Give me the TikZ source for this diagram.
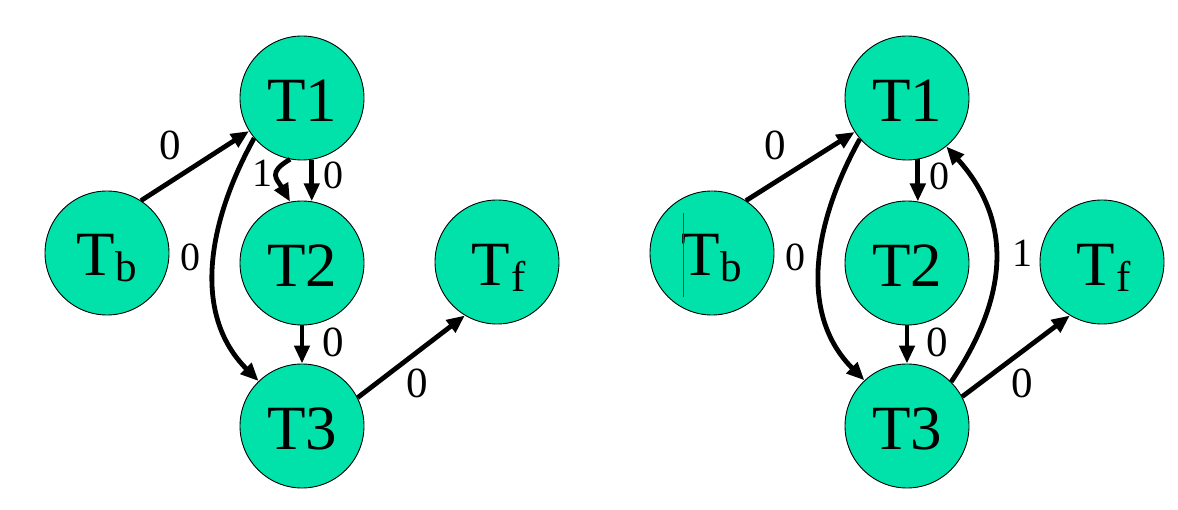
\documentclass[tikz,border=0pt]{standalone}
\usepackage{fontspec}
\setmainfont{Liberation Serif}
\usetikzlibrary{arrows.meta}
\definecolor{nodegreen}{RGB}{0,226,170}
\newcommand{\bigfont}{\fontsize{63}{63}\selectfont}
\newcommand{\subfont}{\fontsize{43}{43}\selectfont}
\newcommand{\lblfont}{\fontsize{43}{43}\selectfont}
\newcommand{\smlfont}{\fontsize{40}{40}\selectfont}
\newcommand{\subtxt}[1]{\raisebox{-5.5pt}{\subfont #1}}
\begin{document}
\begin{tikzpicture}[x=1pt,y=1pt,
  state/.style={circle, draw=black, line width=0.9pt, fill=nodegreen,
    minimum size=124pt, inner sep=0pt, font=\bigfont, text depth=0pt},
  edge/.style={line width=4.8pt, -{Triangle[length=18pt,width=15pt]}},
  lbl/.style={inner sep=0pt, font=\lblfont},
  sml/.style={inner sep=0pt, font=\smlfont}]
\useasboundingbox (0,0) rectangle (1178,509);
% ---------- left graph ----------
\node[state] (T1L) at (302,411) {\raisebox{-4.5pt}{T1}};
\node[state] (TbL) at (107,256) {\raisebox{-4.5pt}{T\kern1pt\subtxt{b}}};
\node[state] (T2L) at (302,246) {\raisebox{-4.5pt}{T2}};
\node[state] (TfL) at (497,247) {\raisebox{-6pt}{\kern3pt T\kern1pt\subtxt{f}}};
\node[state] (T3L) at (302,83) {\raisebox{-4.5pt}{T3}};

\draw[edge] (TbL.57) -- (T1L.212);
\draw[edge] (T1L.279) -- (T2L.81);
\draw[edge] (T1L.259) to[out=210,in=120,looseness=1.6] (T2L.101);
\draw[edge] (T1L.220) to[out=241,in=135] (T3L.134);
\draw[edge] (T2L.south) -- (T3L.north);
\draw[edge] (T3L.27) -- (TfL.239);

\node[lbl] (l1) at (170,364) {0};
\node[sml] (l2) at (262,336) {1};
\node[sml] (l3) at (333,334) {0};
\node[sml] (l4) at (190,252) {0};
\node[lbl] (l5) at (333,167) {0};
\node[lbl] (l6) at (417,126) {0};

% ---------- right graph ----------
\node[state] (T1R) at (907,411) {\raisebox{-4.5pt}{T1}};
\node[state] (TbR) at (712,256) {\raisebox{-4.5pt}{T\kern1pt\subtxt{b}}};
\node[state] (T2R) at (907,246) {\raisebox{-4.5pt}{T2}};
\node[state] (TfR) at (1102,247) {\raisebox{-6pt}{\kern3pt T\kern1pt\subtxt{f}}};
\node[state] (T3R) at (907,83) {\raisebox{-4.5pt}{T3}};

\draw[red!85!black, line width=0.6pt] (683.3,296) -- (683.3,212);

\draw[edge] (TbR.57) -- (T1R.213);
\draw[edge] (T1R.280) -- (T2R.80);
\draw[edge] (T1R.221) to[out=241,in=135] (T3R.133);
\draw[edge] (T2R.south) -- (T3R.north);
\draw[edge] (T3R.45) to[out=56,in=312,looseness=1.1] (T1R.309);
\draw[edge] (T3R.28) -- (TfR.239);

\node[lbl] (r1) at (775,364) {0};
\node[sml] (r2) at (939,333) {0};
\node[sml] (r3) at (795,252) {0};
\node[lbl] (r4) at (937,167) {0};
\node[sml] (r5) at (1022,256) {1};
\node[lbl] (r6) at (1022,126) {0};
\end{tikzpicture}
\end{document}
